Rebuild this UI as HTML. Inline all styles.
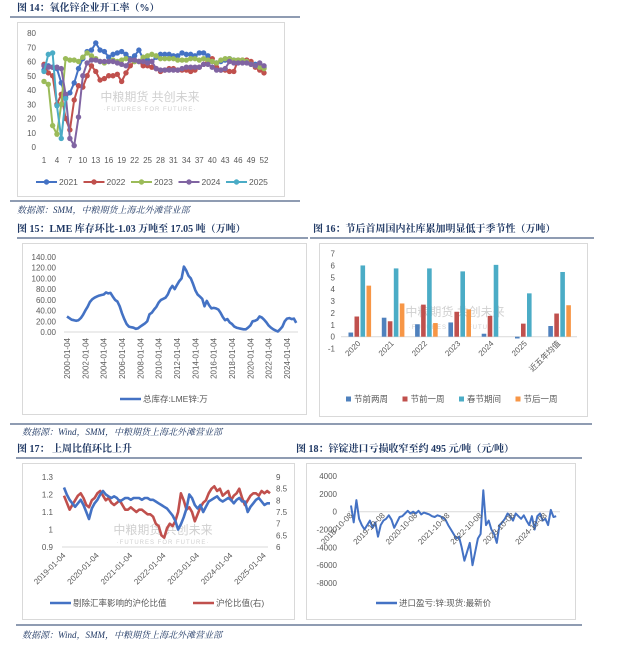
<!DOCTYPE html>
<html><head><meta charset="utf-8">
<style>
html,body{margin:0;padding:0;background:#fff;}
svg{display:block;font-family:"Liberation Sans","Noto Sans CJK SC",sans-serif;}
.t{font-family:"Liberation Serif","Noto Serif CJK SC",serif;font-weight:bold;font-size:10px;fill:#1f3864;}
.src{font-family:"Liberation Serif","Noto Serif CJK SC",serif;font-style:italic;font-size:9px;fill:#1f3864;}
.ax{font-size:8px;fill:#595959;}
.lg{font-size:8.5px;fill:#595959;}
.wm{font-size:12px;fill:#d0d0d0;}
.wm2{font-size:6px;fill:#d0d0d0;letter-spacing:1px;}
</style></head><body>
<svg id="s" width="632" height="647" viewBox="0 0 632 647" xmlns="http://www.w3.org/2000/svg">
<text class="t" x="17" y="11">图 14：氧化锌企业开工率（%）</text>
<line x1="10" y1="17" x2="300" y2="17" stroke="#1f3864" stroke-width="1"/>
<rect x="17.5" y="22.5" width="267" height="174" fill="#fff" stroke="#d9d9d9"/>
<line x1="10" y1="201" x2="300" y2="201" stroke="#1f3864"/>
<text class="src" x="17" y="213">数据源：SMM，中粮期货上海北外滩营业部</text>

<text class="t" x="17" y="232">图 15：LME 库存环比-1.03 万吨至 17.05 吨（万吨）</text>
<line x1="17" y1="238" x2="308" y2="238" stroke="#1f3864"/>
<rect x="22.5" y="243.5" width="284" height="171" fill="#fff" stroke="#d9d9d9"/>
<text class="t" x="313" y="232">图 16：节后首周国内社库累加明显低于季节性（万吨）</text>
<line x1="310" y1="238" x2="594" y2="238" stroke="#1f3864"/>
<rect x="319.5" y="243.5" width="268" height="173" fill="#fff" stroke="#d9d9d9"/>
<line x1="10" y1="424" x2="592" y2="424" stroke="#1f3864"/>
<text class="src" x="22" y="435">数据源：Wind，SMM，中粮期货上海北外滩营业部</text>

<text class="t" x="17" y="452">图 17：&#160;上周比值环比上升</text>
<text class="t" x="296" y="452">图 18：锌锭进口亏损收窄至约 495 元/吨（元/吨）</text>
<line x1="16" y1="458" x2="582" y2="458" stroke="#1f3864"/>
<rect x="22.5" y="463.5" width="272" height="156" fill="#fff" stroke="#d9d9d9"/>
<rect x="306.5" y="463.5" width="269" height="156" fill="#fff" stroke="#d9d9d9"/>
<line x1="16" y1="625" x2="582" y2="625" stroke="#1f3864"/>
<text class="src" x="22" y="638">数据源：Wind，SMM，中粮期货上海北外滩营业部</text>

<g>
<text class="wm" x="150" y="101" text-anchor="middle">中粮期货 共创未来</text><text class="wm2" x="150" y="111" text-anchor="middle">·FUTURES FOR FUTURE·</text>
<text class="wm" x="455" y="316" text-anchor="middle">中粮期货 共创未来</text><text class="wm2" x="455" y="329" text-anchor="middle">·FUTURES FOR FUTURE·</text>
<text class="wm" x="163" y="534" text-anchor="middle">中粮期货 共创未来</text><text class="wm2" x="163" y="544" text-anchor="middle">·FUTURES FOR FUTURE·</text>
</g>
</svg>
<script>
// ---------- Fig14 data ----------
const weeks14 = 52;
const years14 = ['2021','2022','2023','2024','2025'];
const s2021 = [54,57,56,55,45,35,38,45,55,62,67,68,73,68,67,63,65,66,67,65,62,64,68,62,61,60,63,65,65,65,64,64,66,65,65,64,66,66,64,60,59,60,61,62,61,60,60,60,59,58,57,56];
const s2022 = [58,52,50,30,37,20,12,33,43,42,50,57,53,47,48,50,50,51,46,52,57,60,60,57,57,56,55,53,54,55,55,54,54,54,53,54,56,58,60,62,56,54,54,53,53,61,61,61,60,56,54,52];
const s2023 = [46,44,15,9,30,62,61,61,60,63,66,64,62,60,59,60,61,60,61,62,61,60,60,63,64,65,64,62,62,62,62,61,61,61,62,62,61,62,61,60,59,61,62,62,61,61,61,60,58,57,56,55];
const s2024 = [57,56,56,56,55,37,6,1,21,50,59,61,61,60,60,60,60,59,58,57,61,61,60,60,59,60,55,54,54,54,54,54,55,56,56,56,56,58,58,56,54,54,55,60,59,59,59,59,58,57,59,57];
const s2025 = [53,65,66,29,6,34];
const ticks14y = [0,10,20,30,40,50,60,70,80];
const ticks14x = [1,4,7,10,13,16,19,22,25,28,31,34,37,40,43,46,49,52];
// ---------- Fig15 data (quarterly reads) ----------
const lmeStartYear = 2000;
const lme = [29,26,23,22, 21,22,26,32, 40,47,56,61, 64,66,68,69, 70,74,72,73, 66,60,57,48, 35,24,15,10, 9,8,6,7, 10,13,16,20, 33,36,42,47, 55,60,62,64, 70,80,86,80, 88,95,100,122, 115,105,100,90, 78,70,66,62, 48,58,50,44, 45,44,42,36, 28,22,24,18, 15,10,8,7, 6,5,5,8, 12,20,21,23, 29,27,23,18, 12,8,5,3, 1,5,10,20, 25,26,24,25, 17];
const ticks15y = [0,20,40,60,80,100,120,140];
const ticks15x = ['2000-01-04','2002-01-04','2004-01-04','2006-01-04','2008-01-04','2010-01-04','2012-01-04','2014-01-04','2016-01-04','2018-01-04','2020-01-04','2022-01-04','2024-01-04'];
// ---------- Fig16 data ----------
const cats16 = ['2020','2021','2022','2023','2024','2025','近五年均值'];
const series16names = ['节前两周','节前一周','春节期间','节后一周'];
const b16a = [0.35,1.6,1.05,1.2,0.25,-0.15,0.9];
const b16b = [1.7,1.3,2.7,2.1,1.75,1.1,1.95];
const b16c = [6.0,5.75,5.75,5.5,6.05,3.65,5.45];
const b16d = [4.3,2.8,1.15,2.3,0,0,2.65];
const ticks16y = [-1,0,1,2,3,4,5,6,7];
// ---------- Fig17 data (monthly from 2019-01) ----------
const ratioAdj = [1.24,1.2,1.17,1.15,1.13,1.15,1.17,1.14,1.1,1.06,1.12,1.15, 1.17,1.2,1.22,1.2,1.19,1.18,1.19,1.18,1.16,1.17,1.18,1.18, 1.17,1.18,1.18,1.18,1.17,1.18,1.18,1.17,1.17,1.16,1.15,1.14, 1.13,1.12,1.1,1.08,1.05,1.0,1.03,1.07,1.12,1.2,1.18,1.14, 1.12,1.14,1.1,1.13,1.16,1.17,1.18,1.19,1.17,1.16,1.17,1.18, 1.17,1.15,1.17,1.18,1.16,1.16,1.1,1.13,1.15,1.17,1.18,1.16, 1.14,1.15,1.15];
const ratioRaw = [8.2,7.9,7.6,7.8,8.0,8.2,8.3,8.1,7.8,7.7,8.0,8.1, 8.3,8.4,8.2,8.0,8.1,7.9,7.8,7.9,8.0,7.8,7.6,7.6, 7.7,7.6,7.5,7.6,7.6,7.5,7.4,7.4,7.3,7.0,6.9,6.5, 6.4,6.8,7.0,6.9,7.1,7.5,8.3,8.0,7.6,7.7,7.5,7.1, 7.4,7.7,7.9,8.0,8.3,8.5,8.6,8.4,8.5,8.2,8.3,8.4, 8.0,8.2,8.3,8.5,8.1,7.8,8.0,8.2,8.3,8.3,8.2,8.4, 8.3,8.4,8.3];
const ticks17l = [0.9,1,1.1,1.2,1.3];
const ticks17r = [6,6.5,7,7.5,8,8.5,9];
const ticks17x = ['2019-01-04','2020-01-04','2021-01-04','2022-01-04','2023-01-04','2024-01-04','2025-01-04'];
// ---------- Fig18 data (monthly from 2018-10) ----------
const importPL = [700,-1200,1300,-800,-1500,-2000,-1500,-1000,-1800,-1200,-2800,-1500, -1000,-800,-400,-900,-1800,-1200,-600,-500,-200,100,-200,0, -200,100,-300,-100,-200,-300,-500,-600,-400,-500,-700,-900, -1500,-2000,-2500,-3000,-2800,-4000,-5500,-4500,-3500,-6000,-4500,-3000, -2500,2400,-1500,-1000,-2000,-2500,-3500,-1500,-1200,-800,-200,-500, -1000,-200,-500,-800,-400,-1000,-1500,-500,-2000,-500,-200,-1000, -800,-1500,200,-600,-500];
const ticks18y = [-8000,-6000,-4000,-2000,0,2000,4000];
const ticks18x = ['2018-10-08','2019-10-08','2020-10-08','2021-10-08','2022-10-08','2023-10-08','2024-10-08'];

const NS='http://www.w3.org/2000/svg';
const svg=document.getElementById('s');
function mk(tag,attrs,parent){const e=document.createElementNS(NS,tag);for(const k in attrs)e.setAttribute(k,attrs[k]);(parent||svg).appendChild(e);return e;}
function txt(x,y,s,cls,anchor,parent,rot){const e=mk('text',{x:x,y:y,class:cls,'text-anchor':anchor||'start'},parent);if(rot!==undefined)e.setAttribute('transform','rotate('+rot+' '+x+' '+y+')');e.textContent=s;return e;}
function pathOf(vals,fx,fy){return vals.map((v,i)=>(i?'L':'M')+fx(i).toFixed(1)+' '+fy(v).toFixed(1)).join(' ');}

// ===== Fig14 =====
const x14=w=>44+(w-1)*(264-44)/51, y14=v=>147-v*(147-33)/80;
const g14=mk('g',{});


ticks14y.forEach(t=>{const e=txt(36,y14(t)+3,String(t),'ax','end',g14);

});
ticks14x.forEach(t=>{const e=txt(x14(t),163,String(t),'ax','middle',g14);

});
const cols14=['#4472c4','#c0504d','#9bbb59','#8064a2','#4bacc6'];
[s2021,s2022,s2023,s2024,s2025].forEach((s,k)=>{
 const p=mk('path',{d:pathOf(s,i=>x14(i+1),y14),fill:'none',stroke:cols14[k],'stroke-width':2},g14);
 
 
 s.forEach((v,i)=>{const c=mk('circle',{cx:x14(i+1),cy:y14(v),r:2.7,fill:cols14[k]},g14);
 
 });
 const lx=36+k*47.5;
 const ll=mk('line',{x1:lx,y1:182,x2:lx+21,y2:182,stroke:cols14[k],'stroke-width':2},g14);
 
 
 mk('circle',{cx:lx+10.5,cy:182,r:2.7,fill:cols14[k]},g14);
 const lt=txt(lx+23,185,years14[k],'lg','start',g14);
 
 
});

// ===== Fig15 =====
const y15=v=>332-v*(332-257)/140;
const xd15=yr=>67+(yr-2000)*(287-67)/24;
const g15=mk('g',{});


ticks15y.forEach(t=>{const e=txt(56,y15(t)+3,t.toFixed(2),'ax','end',g15);

});
const ax15=mk('line',{x1:64,y1:y15(0),x2:298,y2:y15(0),stroke:'#d9d9d9'},g15);


ticks15x.forEach(t=>{const yr=parseInt(t);const x=xd15(yr);const e=txt(x+3,338,t,'ax','end',g15,-90);

});
const p15=mk('path',{d:pathOf(lme,i=>xd15(lmeStartYear+i/4),y15),fill:'none',stroke:'#4472c4','stroke-width':2.6,'stroke-linejoin':'round'},g15);


const l15=mk('line',{x1:120,y1:399,x2:141,y2:399,stroke:'#4472c4','stroke-width':2.4},g15);


const lt15=txt(143,402,'总库存:LME锌:万','lg','start',g15);



// ===== Fig16 =====
const y16=v=>336.7-v*(348-253)/8;
const g16=mk('g',{});


ticks16y.forEach(t=>{const e=txt(335,y16(t)+3,String(t),'ax','end',g16);

});
const ax16=mk('line',{x1:341,y1:y16(0),x2:577,y2:y16(0),stroke:'#d9d9d9'},g16);


const cols16=['#4f81bd','#c0504d','#4bacc6','#f79646'];
[b16a,b16b,b16c,b16d].forEach((s,k)=>{
 s.forEach((v,i)=>{const x=348.5+i*33.3+k*6;const y0=y16(0),y1=y16(v);
 const r=mk('rect',{x:x,y:Math.min(y0,y1),width:4.6,height:Math.abs(y1-y0),fill:cols16[k]},g16);
 
 });
 const lx=346+k*56.5;
 const sq=mk('rect',{x:lx,y:396.5,width:5,height:5,fill:cols16[k]},g16);
 
 
 const lt=txt(lx+8,402,series16names[k],'lg','start',g16);
 
 
});
cats16.forEach((c,i)=>{const e=txt(361+i*33.3,344,c,'ax','end',g16,-45);

});

// ===== Fig17 =====
const yl17=v=>547-(v-0.9)*(547-477)/0.4, yr17=v=>547-(v-6)*(547-477)/3;
const x17=m=>64+m/12*33.4;
const g17=mk('g',{});


ticks17l.forEach(t=>{const e=txt(53,yl17(t)+3,String(t),'ax','end',g17);

});
ticks17r.forEach(t=>{const e=txt(276,yr17(t)+3,String(t),'ax','start',g17);

});
const ax17=mk('line',{x1:62,y1:547,x2:268,y2:547,stroke:'#d9d9d9'},g17);


ticks17x.forEach((t,i)=>{const x=x17(i*12)+2;const e=txt(x,556,t,'ax','end',g17,-45);

});
const pr=mk('path',{d:pathOf(ratioRaw,x17,yr17),fill:'none',stroke:'#c0504d','stroke-width':2.6,'stroke-linejoin':'round'},g17);


const pb=mk('path',{d:pathOf(ratioAdj,x17,yl17),fill:'none',stroke:'#4472c4','stroke-width':2.6,'stroke-linejoin':'round'},g17);


const l17a=mk('line',{x1:50,y1:603,x2:71,y2:603,stroke:'#4472c4','stroke-width':2.4},g17);


const t17a=txt(73,606,'剔除汇率影响的沪伦比值','lg','start',g17);


const l17b=mk('line',{x1:193,y1:603,x2:214,y2:603,stroke:'#c0504d','stroke-width':2.4},g17);


const t17b=txt(216,606,'沪伦比值(右)','lg','start',g17);



// ===== Fig18 =====
const y18=v=>511.7-v*(583-476)/12000;
const x18=m=>351+m/12*32.4;
const g18=mk('g',{});


ticks18y.forEach(t=>{const e=txt(337,y18(t)+3,String(t),'ax','end',g18);

});
const ax18=mk('line',{x1:348,y1:y18(0),x2:560,y2:y18(0),stroke:'#d9d9d9'},g18);


const p18=mk('path',{d:pathOf(importPL,x18,y18),fill:'none',stroke:'#4472c4','stroke-width':2,'stroke-linejoin':'round'},g18);


ticks18x.forEach((t,i)=>{const x=x18(i*12)+2;const e=txt(x,516,t,'ax','end',g18,-45);

});
const l18=mk('line',{x1:376,y1:603,x2:397,y2:603,stroke:'#4472c4','stroke-width':2.4},g18);


const t18=txt(399,606,'进口盈亏:锌:现货:最新价','lg','start',g18);


</script>
</body></html>
